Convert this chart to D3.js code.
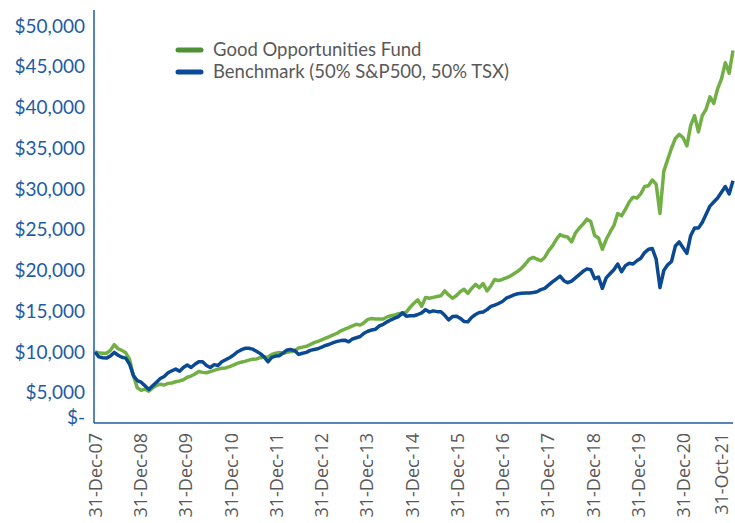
<!DOCTYPE html>
<html>
<head>
<meta charset="utf-8">
<script src="https://cdn.jsdelivr.net/npm/d3@7"></script>
<style>
  body { margin: 0; background: #fff; }
</style>
</head>
<body>
<div id="chart"></div>
<script>
var fundName = "Good Opportunities Fund";
var benchName = "Benchmark (50% S&P500, 50% TSX)";

// month-end values from 31-Dec-07 to 31-Oct-21 (growth of $10,000)
var fund = [10000,
  9900, 9850, 9850, 10200, 10900, 10400, 10200, 9900, 9100, 7100, 5600, 5300,
  5450, 5200, 5600, 5900, 6050, 5950, 6150, 6200, 6350, 6450, 6600, 6900,
  7050, 7300, 7600, 7500, 7450, 7600, 7750, 7900, 8000, 8050, 8200, 8400,
  8600, 8750, 8850, 9000, 9100, 9150, 9300, 9350, 9400, 9700, 9850, 9950,
  9850, 9950, 10050, 10150, 10500, 10600, 10700, 10900, 11150, 11300, 11500, 11700,
  11900, 12100, 12300, 12600, 12800, 13000, 13200, 13400, 13300, 13600, 14000, 14100,
  14050, 14050, 14050, 14300, 14450, 14550, 14700, 14800, 14900, 15500, 16000, 16400,
  15600, 16700, 16600, 16700, 16800, 16900, 17500, 17000, 16600, 16900, 17400, 17700,
  17200, 17800, 18300, 17900, 18400, 17500, 18100, 18900, 18750, 18900, 19100, 19300,
  19600, 19900, 20300, 20800, 21400, 21600, 21400, 21200, 21600, 22400, 23000, 23800,
  24400, 24200, 24100, 23500, 24600, 25200, 25700, 26300, 26000, 24300, 24000, 22600,
  23800, 24700, 25500, 27000, 26700, 27500, 28400, 29000, 28900, 29400, 30300, 30400,
  31100, 30600, 27000, 32200, 33600, 35000, 36200, 36700, 36300, 35300, 37800, 39000,
  37000, 39000, 39800, 41300, 40500, 42300, 43500, 45500, 44200, 47000];

var bench = [10000,
  9400, 9300, 9250, 9500, 9950, 9600, 9350, 9250, 8500, 7100, 6500, 6300,
  5850, 5400, 5850, 6300, 6750, 7000, 7450, 7700, 7900, 7650, 8100, 8400,
  8100, 8500, 8800, 8800, 8350, 8100, 8450, 8350, 8800, 9050, 9300, 9600,
  10000, 10250, 10450, 10450, 10350, 10100, 9800, 9400, 8800, 9350, 9500, 9550,
  9900, 10250, 10300, 10150, 9700, 9850, 9950, 10200, 10300, 10400, 10600, 10800,
  10950, 11150, 11300, 11400, 11450, 11250, 11600, 11750, 11900, 12300, 12550, 12700,
  12800, 13200, 13400, 13700, 13950, 14150, 14350, 14800, 14400, 14450, 14450, 14600,
  14800, 15200, 14900, 15050, 14950, 14950, 14500, 13950, 14350, 14400, 14150, 13750,
  13700, 14250, 14600, 14850, 14900, 15200, 15600, 15750, 15950, 16200, 16600, 16800,
  17000, 17150, 17200, 17250, 17250, 17300, 17400, 17650, 17800, 18200, 18600, 18950,
  19300, 18750, 18500, 18700, 19100, 19500, 19900, 20200, 20100, 19000, 19200, 17800,
  19100, 19600, 20100, 20800, 19850, 20600, 20900, 20800, 21200, 21500, 22200, 22600,
  22700, 21400, 17900, 20000, 20700, 21100, 23000, 23500, 22800, 22100, 24300, 25200,
  25200, 25900, 26900, 27900, 28400, 28900, 29600, 30300, 29400, 31000];

var xLabels = ["31-Dec-07", "31-Dec-08", "31-Dec-09", "31-Dec-10", "31-Dec-11", "31-Dec-12",
  "31-Dec-13", "31-Dec-14", "31-Dec-15", "31-Dec-16", "31-Dec-17", "31-Dec-18",
  "31-Dec-19", "31-Dec-20", "31-Oct-21"];
var xLabelIndex = [0, 12, 24, 36, 48, 60, 72, 84, 96, 108, 120, 132, 144, 156, 166];
var yTicks = [0, 5000, 10000, 15000, 20000, 25000, 30000, 35000, 40000, 45000, 50000];

var fundColor = "#72b046", fundLegend = "#4f9137";
var benchColor = "#0b4a92", benchLegend = "#0b4a96";
var axisColor = "#1f5ba6";

var svg = d3.select("#chart").append("svg")
    .attr("width", 735)
    .attr("height", 523);

var x = d3.scaleLinear().domain([0, fund.length - 1]).range([95, 733]);
// category labels sit a little left of the last point so the last one fits
var xl = x.copy().range([95, 721]);
var y = d3.scaleLinear().domain([0, 50000]).range([433.5, 26]);
var axisY = 423;

// Y axis labels
var yAxis = svg.append("g")
    .attr("transform", "translate(94,0)")
    .call(d3.axisLeft(y).tickValues(yTicks).tickSize(0).tickPadding(9)
        .tickFormat(function(d) { return d === 0 ? "$-" : "$" + d3.format(",")(d); }));
yAxis.select(".domain").remove();
yAxis.selectAll(".tick")
    .filter(function(d) { return d === 0; })
    .attr("transform", "translate(0," + (axisY - 5) + ")");
yAxis.selectAll("text")
    .style("font-family", "Lato, 'Open Sans', sans-serif")
    .style("font-size", "19px")
    .attr("fill", axisColor);

// X axis labels
var xAxis = svg.append("g")
    .attr("transform", "translate(0," + axisY + ")")
    .call(d3.axisBottom(xl).tickValues(xLabelIndex).tickSize(0)
        .tickFormat(function(d, i) { return xLabels[i]; }));
xAxis.select(".domain").remove();
xAxis.selectAll("text")
    .attr("transform", "rotate(-90)")
    .attr("x", -10)
    .attr("y", 0)
    .attr("dy", "0.35em")
    .style("text-anchor", "end")
    .style("font-family", "'Open Sans', sans-serif")
    .style("font-size", "18px")
    .attr("fill", "#595959");

// axis lines
svg.append("line")
    .attr("x1", 94).attr("x2", 94).attr("y1", 10).attr("y2", axisY)
    .attr("stroke", axisColor).attr("stroke-width", 1.5);
svg.append("line")
    .attr("x1", 94).attr("x2", 733).attr("y1", axisY).attr("y2", axisY)
    .attr("stroke", axisColor).attr("stroke-width", 1.5);

// lines
var line = d3.line()
    .x(function(d, i) { return x(i); })
    .y(function(d) { return y(d); });

svg.append("path")
    .datum(fund)
    .attr("d", line)
    .attr("fill", "none")
    .attr("stroke", fundColor)
    .attr("stroke-width", 3.5)
    .attr("stroke-linejoin", "round");

svg.append("path")
    .datum(bench)
    .attr("d", line)
    .attr("fill", "none")
    .attr("stroke", benchColor)
    .attr("stroke-width", 3.5)
    .attr("stroke-linejoin", "round");

// legend
var legend = [
  {name: fundName, color: fundLegend, y: 50},
  {name: benchName, color: benchLegend, y: 72}
];
var lg = svg.append("g").selectAll("g")
    .data(legend)
    .enter().append("g");
lg.append("line")
    .attr("x1", 178).attr("x2", 201)
    .attr("y1", function(d) { return d.y; })
    .attr("y2", function(d) { return d.y; })
    .attr("stroke", function(d) { return d.color; })
    .attr("stroke-width", 5)
    .attr("stroke-linecap", "round");
lg.append("text")
    .attr("x", 213)
    .attr("y", function(d) { return d.y; })
    .attr("dy", "0.35em")
    .style("font-family", "Lato, 'Open Sans', sans-serif")
    .style("font-size", "18.5px")
    .attr("fill", "#595959")
    .text(function(d) { return d.name; });
</script>
</body>
</html>
